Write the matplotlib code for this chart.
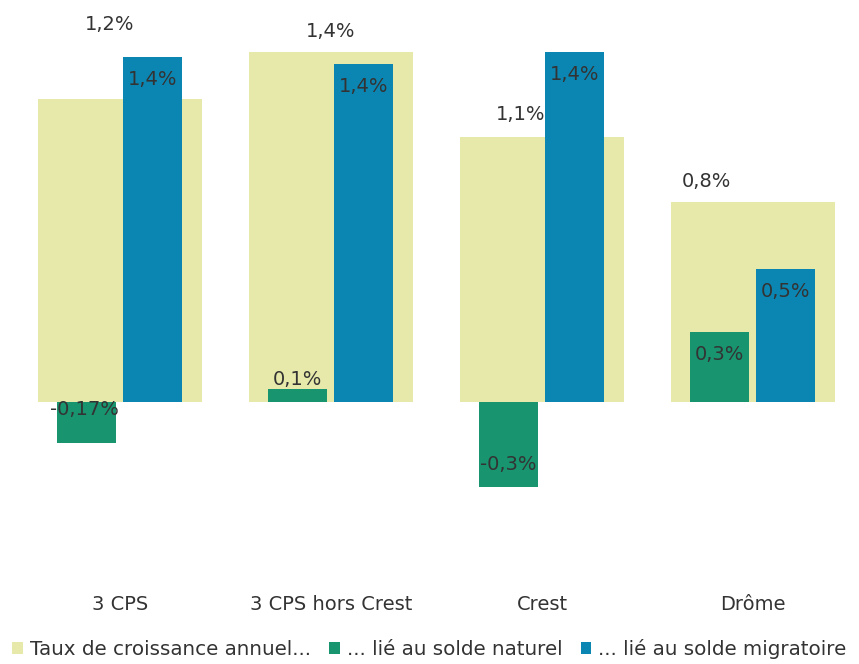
import matplotlib.pyplot as plt
import numpy as np

plt.rcParams['font.family'] = ['DejaVu Sans']

categories = ["3 CPS", "3 CPS hors Crest", "Crest", "Drôme"]
taux = [1.21, 1.40, 1.06, 0.80]
naturel = [-0.165, 0.05, -0.34, 0.28]
migratoire = [1.38, 1.35, 1.40, 0.53]
taux_lbl = ["1,2%", "1,4%", "1,1%", "0,8%"]
naturel_lbl = ["-0,17%", "0,1%", "-0,3%", "0,3%"]
migratoire_lbl = ["1,4%", "1,4%", "1,4%", "0,5%"]

c_taux = "#e6e9aa"
c_nat = "#18946f"
c_mig = "#0b86b3"
txt = "#333333"
fs = 14

fig = plt.figure(figsize=(8.59, 6.64), dpi=100)
ax = fig.add_axes([0, 0.1122, 1, 0.885])

x = np.arange(len(categories))
ax.bar(x, taux, width=0.78, color=c_taux, label="Taux de croissance annuel...")
ax.bar(x - 0.16, naturel, width=0.28, color=c_nat, label="... lié au solde naturel")
ax.bar(x + 0.155, migratoire, width=0.28, color=c_mig, label="... lié au solde migratoire")

# labels of the wide bars (placed by hand like in the source)
tx_off = [(-0.05, 0.30), (0.0, 0.08), (-0.10, 0.09), (-0.22, 0.08)]
for i, v in enumerate(taux):
    ax.text(x[i] + tx_off[i][0], v + tx_off[i][1], taux_lbl[i], ha="center",
            va="center", fontsize=fs, color=txt)

for i, v in enumerate(migratoire):
    ax.text(x[i] + 0.155, v - 0.09, migratoire_lbl[i], ha="center",
            va="center", fontsize=fs, color=txt)

nat_y = [-0.03, 0.09, -0.25, 0.19]
nat_x = [-0.17, -0.16, -0.16, -0.16]
for i, v in enumerate(naturel):
    ax.text(x[i] + nat_x[i], nat_y[i], naturel_lbl[i], ha="center",
            va="center", fontsize=fs, color=txt)

ax.set_xlim(-0.569, 3.502)
ax.set_ylim(-0.75, 1.6)
ax.set_xticks(x)
ax.set_xticklabels(categories, fontsize=fs, color=txt)
ax.tick_params(axis="x", length=0, pad=4)
ax.set_yticks([])
for s in ax.spines.values():
    s.set_visible(False)

fig.legend(loc="lower center", bbox_to_anchor=(0.5, -0.02), ncol=3,
           frameon=False, fontsize=14.3, handlelength=0.55, handleheight=0.55,
           handletextpad=0.35, columnspacing=0.9, labelcolor=txt)

fig.savefig("out.png", dpi=100)
